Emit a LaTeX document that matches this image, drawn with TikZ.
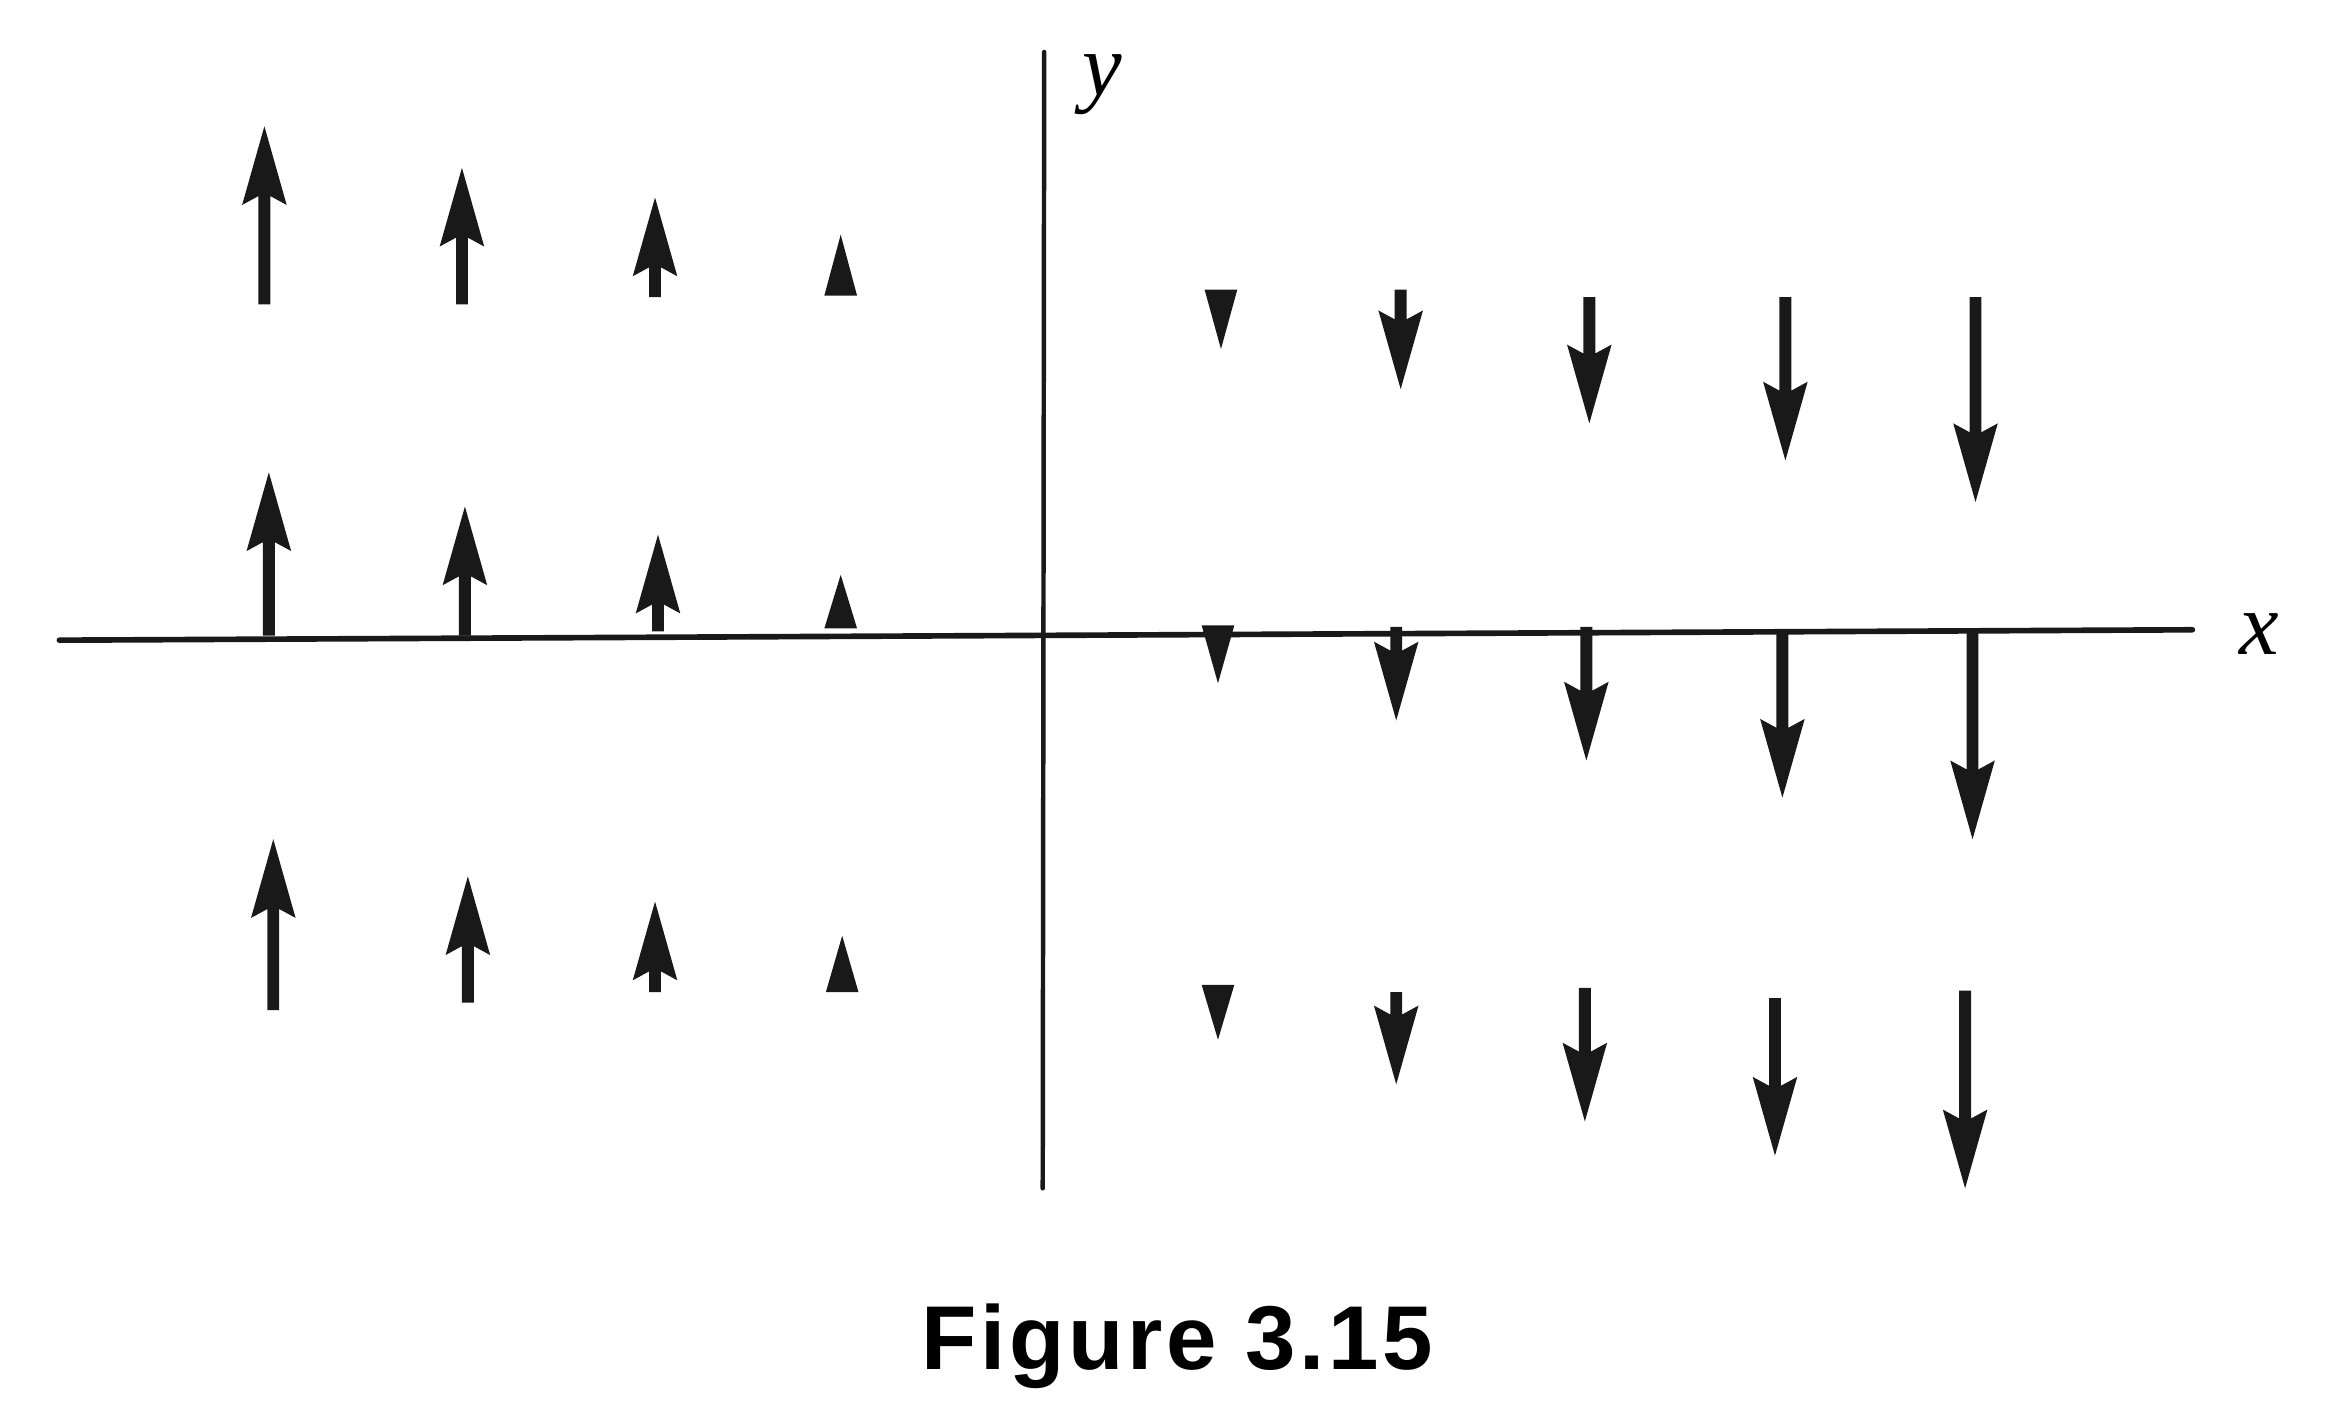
\documentclass[tikz,border=0pt]{standalone}
\usepackage{fontspec}
\newfontfamily\capfont[LetterSpace=4]{Liberation Sans}
\newfontfamily\lblfont{Liberation Serif}
\tikzset{
  axisline/.style={line width=3.8pt, line cap=round, black!90},
  yaxisline/.style={line width=3pt, line cap=round, black!90},
  vecfill/.style={fill=black!90},
  axlabel/.style={inner sep=0pt, font=\lblfont\itshape\fontsize{60}{64}\selectfont},
  caption/.style={inner sep=0pt, anchor=base, font=\capfont\bfseries\fontsize{61}{66}\selectfont}
}
% full arrow: x, tail y, tip y (y grows downward)
\newcommand\VArr[3]{%
  \pgfmathsetmacro\dd{((#3)>(#2))?1:-1}%
  \fill[vecfill] (#1-4,#2) -- (#1+4,#2) -- (#1+4,#3-\dd*47) -- (#1+15,#3-\dd*53)
    -- (#1,#3) -- (#1-15,#3-\dd*53) -- (#1-4,#3-\dd*47) -- cycle;}
% head only: x, base y, tip y
\newcommand\VTri[3]{%
  \fill[vecfill] (#1-11,#2) -- (#1+11,#2) -- (#1,#3) -- cycle;}
\begin{document}
\begin{tikzpicture}[x=1pt,y=-1pt]
\useasboundingbox (0,0) rectangle (1568,944);
% axes
\coordinate (xl) at (40,431);
\coordinate (xr) at (1476,424);
\coordinate (yt) at (703,35);
\coordinate (yb) at (702,800);
\draw[axisline] (xl) -- (xr);
\draw[yaxisline] (yt) -- (yb);
\node[axlabel] (xlab) at (1521,427) {x};
\node[axlabel] (ylab) at (742,57) {y};
% left, upward vectors
\VArr{178}{205}{85}
\VArr{311}{205}{113}
\VArr{441}{200}{133}
\VTri{566}{199}{158}
\VArr{181}{428}{318}
\VArr{313}{428}{341}
\VArr{443}{425}{360}
\VTri{566}{423}{387}
\VArr{184}{680}{565}
\VArr{315}{675}{590}
\VArr{441}{668}{607}
\VTri{567}{668}{630}
% right, downward vectors
\VTri{822}{195}{235}
\VArr{943}{195}{262}
\VArr{1070}{200}{285}
\VArr{1202}{200}{310}
\VArr{1330}{200}{338}
\VTri{820}{421}{460}
\VArr{940}{422}{485}
\VArr{1068}{422}{512}
\VArr{1200}{424}{537}
\VArr{1328}{426}{565}
\VTri{820}{663}{700}
\VArr{940}{668}{730}
\VArr{1067}{665}{755}
\VArr{1195}{672}{778}
\VArr{1323}{667}{800}
% caption
\node[caption] (cap) at (792.5,922) {Figure 3.15};
\end{tikzpicture}
\end{document}
